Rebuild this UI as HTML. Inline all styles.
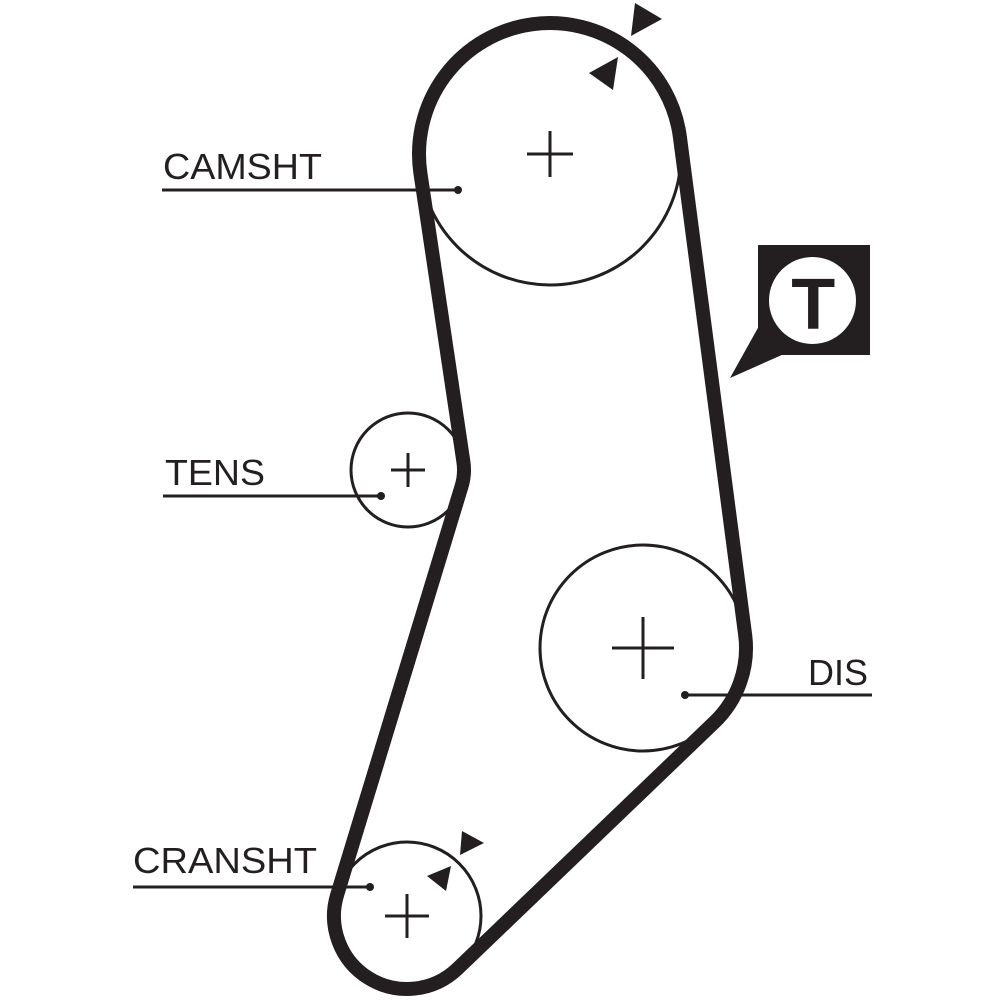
<!DOCTYPE html>
<html>
<head>
<meta charset="utf-8">
<style>
  html, body { margin: 0; padding: 0; background: #ffffff; }
  svg { display: block; }
  text { font-family: "Liberation Sans", Arial, sans-serif; fill: #231f20; }
</style>
</head>
<body>
<svg width="1000" height="1000" viewBox="0 0 1000 1000" xmlns="http://www.w3.org/2000/svg">
  <rect x="0" y="0" width="1000" height="1000" fill="#ffffff"/>

  <!-- pulley outlines -->
  <g fill="none" stroke="#231f20" stroke-width="3">
    <circle cx="550" cy="154" r="131"/>
    <circle cx="408" cy="470" r="57"/>
    <circle cx="643" cy="648" r="103"/>
    <circle cx="407" cy="916" r="74"/>
  </g>

  <!-- belt -->
  <path d="M 420.43 173.30
           A 131 131 0 1 1 679.89 136.97
           L 745.13 634.61
           A 103 103 0 0 1 714.29 722.35
           L 457.52 968.69
           A 73 73 0 0 1 337.17 894.73
           L 461.57 486.31
           A 56 56 0 0 0 463.39 461.75
           Z"
        fill="none" stroke="#231f20" stroke-width="14" stroke-linejoin="round"/>

  <!-- crosses -->
  <g stroke="#231f20" stroke-width="3">
    <line x1="527" y1="154" x2="573" y2="154"/>
    <line x1="550" y1="131" x2="550" y2="177"/>
    <line x1="391" y1="470" x2="425" y2="470"/>
    <line x1="408" y1="453" x2="408" y2="487"/>
    <line x1="612" y1="648" x2="674" y2="648"/>
    <line x1="643" y1="617" x2="643" y2="679"/>
    <line x1="385" y1="916" x2="429" y2="916"/>
    <line x1="407" y1="894" x2="407" y2="938"/>
  </g>

  <!-- label leader lines -->
  <g stroke="#231f20" stroke-width="3">
    <line x1="162" y1="190" x2="458" y2="190"/>
    <line x1="163" y1="496" x2="381" y2="496"/>
    <line x1="685" y1="695" x2="872" y2="695"/>
    <line x1="133" y1="887" x2="370" y2="887"/>
  </g>
  <g fill="#231f20">
    <circle cx="458" cy="190" r="4"/>
    <circle cx="381" cy="496" r="4"/>
    <circle cx="685" cy="695" r="4"/>
    <circle cx="370" cy="887" r="4"/>
  </g>

  <!-- labels -->
  <text x="163" y="179" font-size="36" textLength="159" lengthAdjust="spacingAndGlyphs">CAMSHT</text>
  <text x="165" y="485" font-size="36" textLength="100" lengthAdjust="spacingAndGlyphs">TENS</text>
  <text x="808" y="685" font-size="36" textLength="60" lengthAdjust="spacingAndGlyphs">DIS</text>
  <text x="133" y="873" font-size="36" textLength="184" lengthAdjust="spacingAndGlyphs">CRANSHT</text>

  <!-- direction arrows -->
  <g fill="#231f20">
    <polygon points="635,3 662,19 631,36"/>
    <polygon points="589,73 618,57 613,90"/>
    <polygon points="462,831 484,843 460,855"/>
    <polygon points="427,876 451,866 446,891"/>
  </g>

  <!-- T badge -->
  <rect x="758" y="245" width="112" height="110" fill="#231f20"/>
  <polygon points="759,326 730,378 784,354" fill="#231f20"/>
  <circle cx="812.5" cy="300.5" r="43.5" fill="#ffffff"/>
  <text x="813.3" y="329" font-size="72" font-weight="bold" text-anchor="middle">T</text>
</svg>
</body>
</html>
